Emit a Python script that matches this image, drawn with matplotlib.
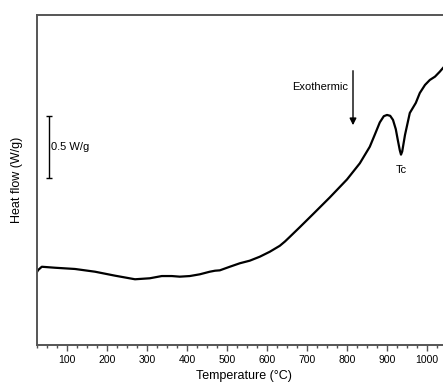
import matplotlib
matplotlib.use("Agg")
import matplotlib.pyplot as plt
from matplotlib.ticker import MultipleLocator

plt.rcParams['font.family'] = ['Liberation Sans', 'DejaVu Sans']

temperature = [25, 28, 37, 70, 120, 170, 220, 270, 307, 337, 362, 382, 407, 432, 457, 470,
               482, 507, 532, 557, 582, 607, 632, 645, 657, 682, 715, 757, 800, 832, 857,
               870, 882, 892, 900, 908, 915, 922, 927, 932, 935, 938, 945, 957, 972, 982,
               995, 1007, 1020, 1032, 1040]
heat_flow = [0.589, 0.605, 0.631, 0.623, 0.613, 0.591, 0.559, 0.530, 0.538, 0.556, 0.556,
             0.551, 0.556, 0.570, 0.591, 0.599, 0.602, 0.631, 0.659, 0.680, 0.712, 0.752,
             0.800, 0.835, 0.872, 0.950, 1.055, 1.190, 1.335, 1.465, 1.599, 1.700, 1.795,
             1.845, 1.855, 1.848, 1.815, 1.740, 1.653, 1.570, 1.535, 1.560, 1.694, 1.871,
             1.952, 2.032, 2.097, 2.137, 2.164, 2.204, 2.234]

x_ticks = [100, 200, 300, 400, 500, 600, 700, 800, 900, 1000]

fig = plt.figure(figsize=(4.43, 3.90), dpi=100)
ax = fig.add_axes([37/443, 45/390, 414/443, 330.5/390])
ax.plot(temperature, heat_flow, color='black', lw=1.6)
ax.set_xlim(25, 1060)
ax.set_ylim(0, 2.665)

ax.set_xticks(x_ticks)
ax.xaxis.set_minor_locator(MultipleLocator(25))
ax.set_yticks([])
spine_c = '#555555'
for s in ['left', 'top', 'bottom']:
    ax.spines[s].set_color(spine_c)
    ax.spines[s].set_linewidth(1.4)
ax.spines['right'].set_visible(False)
ax.tick_params(axis='x', which='major', length=4, width=1, color=spine_c, labelsize=7.5, pad=3)
ax.tick_params(axis='x', which='minor', length=2.5, width=1, color=spine_c)

ax.set_xlabel('Temperature (°C)', fontsize=9, labelpad=4)
ax.set_ylabel('Heat flow (W/g)', fontsize=9, labelpad=10)

# scale bar
ax.errorbar([56], [1.597], yerr=[0.25], color='black', capsize=2, lw=1, capthick=1)
ax.text(60, 1.597, '0.5 W/g', fontsize=8, va='center', ha='left')

# exothermic arrow
ax.annotate('', xy=(815, 1.75), xytext=(815, 2.234),
            arrowprops=dict(arrowstyle='-|>', color='black', lw=1, mutation_scale=10))
ax.text(802, 2.08, 'Exothermic', fontsize=8, ha='right', va='center')
ax.text(937, 1.41, 'Tc', fontsize=8, ha='center', va='center')

fig.savefig('out.png', dpi=100)
